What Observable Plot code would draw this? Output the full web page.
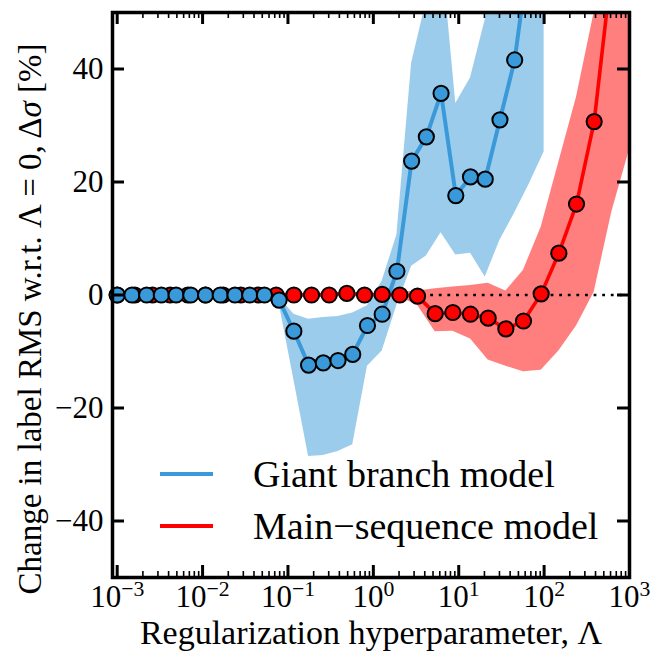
<!DOCTYPE html>
<html>
<head>
<meta charset="utf-8">
<script src="https://cdn.jsdelivr.net/npm/d3@7"></script>
<script src="https://cdn.jsdelivr.net/npm/@observablehq/plot@0.6"></script>
<style>
  html, body { margin: 0; padding: 0; background: #ffffff; }
  #chart { width: 652px; height: 653px; }
  #chart svg, #chart svg text { font-family: "Liberation Serif", "DejaVu Serif", serif; }
</style>
</head>
<body>
<div id="chart"></div>
<script>
// ---------------- data ----------------
// Giant branch model: regularization values and change in RMS [%]
const giantLambda = [0.001, 0.0014874, 0.0022122, 0.0032903, 0.0048939, 0.0072790, 0.010826, 0.016103, 0.023950, 0.035622,
  0.052983, 0.078805, 0.11721, 0.17433, 0.25929, 0.38566, 0.57362, 0.85317, 1.2690, 1.8874,
  2.8072, 4.1753, 6.2102, 9.2367, 13.738, 20.434, 30.392, 45.204, 67.234, 100.0];
const giantDelta = [0, 0, 0, 0, 0, 0, 0, 0, 0, 0,
  0, -0.9, -6.4, -12.4, -12.0, -11.6, -10.5, -5.4, -3.4, 4.2,
  23.7, 28.0, 35.7, 17.6, 20.9, 20.5, 31.0, 41.6, 61, 85];
const giantLow = [-0.3, -0.3, -0.3, -0.3, -0.3, -0.3, -0.3, -0.3, -0.3, -0.3,
  -0.3, -1.5, -15.0, -28.6, -28.4, -27.7, -26.5, -12.6, -9.9, -1.8,
  5.1, 6.9, 11.0, 7.1, 7.4, 3.2, 9.7, 14.5, 19.7, 25.3];
const giantHigh = [0.3, 0.3, 0.3, 0.3, 0.3, 0.3, 0.3, 0.3, 0.3, 0.3,
  0.3, -0.4, -3.4, -4.3, -4.0, -3.8, -3.2, -1.9, 2.5, 10.6,
  41.0, 52, 62, 33.9, 38.4, 48.7, 65, 80, 95, 110];

// Main-sequence model
const mainLambda = [0.001, 0.0016103, 0.0025929, 0.0041753, 0.0067234, 0.010826, 0.017433, 0.028072, 0.045204, 0.072790,
  0.11721, 0.18874, 0.30392, 0.48939, 0.78805, 1.2690, 2.0434, 3.2903, 5.2983, 8.5317,
  13.738, 22.122, 35.622, 57.362, 92.367, 148.74, 239.50, 385.66, 621.02, 1000];
const mainDelta = [0, 0, 0, 0, 0, 0, 0, 0, 0, 0,
  0, 0, 0, 0.3, 0, 0.1, 0, -0.2, -3.3, -3.1,
  -3.4, -4.1, -6.0, -4.6, 0.2, 7.4, 16.1, 30.7, 58, 100];
const mainLow = [-0.3, -0.3, -0.3, -0.3, -0.3, -0.3, -0.3, -0.3, -0.3, -0.3,
  -0.3, -0.3, -0.3, 0.0, -0.3, -0.3, -0.4, -1.8, -6.5, -6.4,
  -7.8, -11.5, -12.6, -13.6, -13.3, -9.9, -5.5, 0.5, 14.7, 25.7];
const mainHigh = [0.3, 0.3, 0.3, 0.3, 0.3, 0.3, 0.3, 0.3, 0.3, 0.3,
  0.3, 0.3, 0.3, 0.6, 0.3, 0.4, 0.5, 0.7, 1.1, 1.4,
  1.7, 2.1, 0.7, 4.4, 12.0, 23.5, 35.0, 50.0, 80, 120];

const seriesNames = ["Giant branch model", "Main\u2212sequence model"];
const xTickValues = [1e-3, 1e-2, 1e-1, 1e0, 1e1, 1e2, 1e3];
const yTickValues = [-40, -20, 0, 20, 40];
const xLabel = "Regularization hyperparameter, \u039B";
const yLabel = "Change in label RMS w.r.t. \u039B = 0, \u0394\u03C3 [%]";

// ---------------- build ----------------
const BLUE = "#3a9ad9";
const RED = "#ff0000";
const W = 652, H = 653;
const mL = 112, mR = 23, mT = 12, mB = 76;
const innerW = W - mL - mR, innerH = H - mT - mB;

const giant = giantLambda.map((lam, i) => ({lam, v: giantDelta[i], lo: giantLow[i], hi: giantHigh[i]}));
const main = mainLambda.map((lam, i) => ({lam, v: mainDelta[i], lo: mainLow[i], hi: mainHigh[i]}));

const minorTicks = [];
for (let e = -3; e < 3; e++) for (let m = 2; m <= 9; m++) minorTicks.push(m * 10 ** e);

const FONT = "'Liberation Serif', 'DejaVu Serif', serif";

const chart = Plot.plot({
  width: W, height: H,
  marginLeft: mL, marginRight: mR, marginTop: mT, marginBottom: mB,
  style: {fontFamily: FONT, fontSize: "31px", background: "#ffffff", color: "black", overflow: "visible"},
  x: {type: "log", domain: [10 ** -3.055, 1000]},
  y: {domain: [-50, 50]},
  marks: [
    Plot.areaY(giant, {x: "lam", y1: "lo", y2: "hi", fill: BLUE, fillOpacity: 0.5, clip: true}),
    Plot.areaY(main, {x: "lam", y1: "lo", y2: "hi", fill: RED, fillOpacity: 0.5, clip: true}),
    Plot.ruleY([0], {stroke: "black", strokeWidth: 2.6, strokeDasharray: "2.8,5.8"}),
    Plot.line(giant, {x: "lam", y: "v", stroke: BLUE, strokeWidth: 4, clip: true}),
    Plot.line(main, {x: "lam", y: "v", stroke: RED, strokeWidth: 3.6, clip: true}),
    Plot.dot(main.filter(d => d.v <= 50), {x: "lam", y: "v", r: 7.6, fill: RED, stroke: "black", strokeWidth: 2}),
    Plot.dot(giant.filter(d => d.v <= 50), {x: "lam", y: "v", r: 7.6, fill: BLUE, stroke: "black", strokeWidth: 2}),
    // inward ticks
    Plot.tickX(xTickValues, {x: d => d, insetTop: innerH - 12, stroke: "black", strokeWidth: 3}),
    Plot.tickX(xTickValues, {x: d => d, insetBottom: innerH - 12, stroke: "black", strokeWidth: 3}),
    Plot.tickX(minorTicks, {x: d => d, insetTop: innerH - 6, stroke: "black", strokeWidth: 1.6}),
    Plot.tickX(minorTicks, {x: d => d, insetBottom: innerH - 6, stroke: "black", strokeWidth: 1.6}),
    Plot.tickY(yTickValues, {y: d => d, insetRight: innerW - 12, stroke: "black", strokeWidth: 3}),
    Plot.tickY(yTickValues, {y: d => d, insetLeft: innerW - 12, stroke: "black", strokeWidth: 3}),
    Plot.frame({stroke: "black", strokeWidth: 3.5}),
    Plot.axisX(xTickValues, {tickSize: 0, tickPadding: 7, label: null, fontSize: 31,
      tickFormat: d => String(Math.round(Math.log10(d)))}),
    Plot.axisY(yTickValues, {tickSize: 0, tickPadding: 9, label: null, fontSize: 31}),
    Plot.text([xLabel], {text: d => d, frameAnchor: "bottom", textAnchor: "middle", lineAnchor: "middle", dy: 56, fontSize: 34}),
    Plot.text([yLabel], {text: d => d, frameAnchor: "left", textAnchor: "middle", lineAnchor: "middle", rotate: -90, dx: -82, dy: 24, fontSize: 33})
  ]
});

document.getElementById("chart").appendChild(chart);
const svg = d3.select(chart);

// superscript exponents on x tick labels
svg.selectAll('g[aria-label="x-axis tick label"] text').each(function() {
  const t = d3.select(this);
  const exp = t.text().replace("-", "\u2212");
  t.text(null);
  t.append("tspan").text("10");
  t.append("tspan").attr("dy", "-0.48em").attr("font-size", "0.7em").text(exp);
});

// italic sigma in y label
svg.selectAll("text").filter(function() { return this.textContent === yLabel; }).each(function() {
  const t = d3.select(this);
  t.text(null);
  t.append("tspan").text("Change in label RMS w.r.t. \u039B = 0, \u0394");
  t.append("tspan").attr("font-style", "italic").text("\u03C3");
  t.append("tspan").text(" [%]");
});

// legend (inside axes, lower part)
const leg = svg.append("g").attr("font-family", FONT).attr("font-size", 38).attr("text-anchor", "start");
[[seriesNames[0], BLUE, 474], [seriesNames[1], RED, 526]].forEach(([name, col, yy]) => {
  leg.append("line").attr("x1", 160).attr("x2", 213).attr("y1", yy).attr("y2", yy)
    .attr("stroke", col).attr("stroke-width", 4);
  leg.append("text").attr("x", 253).attr("y", yy + 13).attr("fill", "black").attr("text-anchor", "start").text(name);
});
</script>
</body>
</html>
